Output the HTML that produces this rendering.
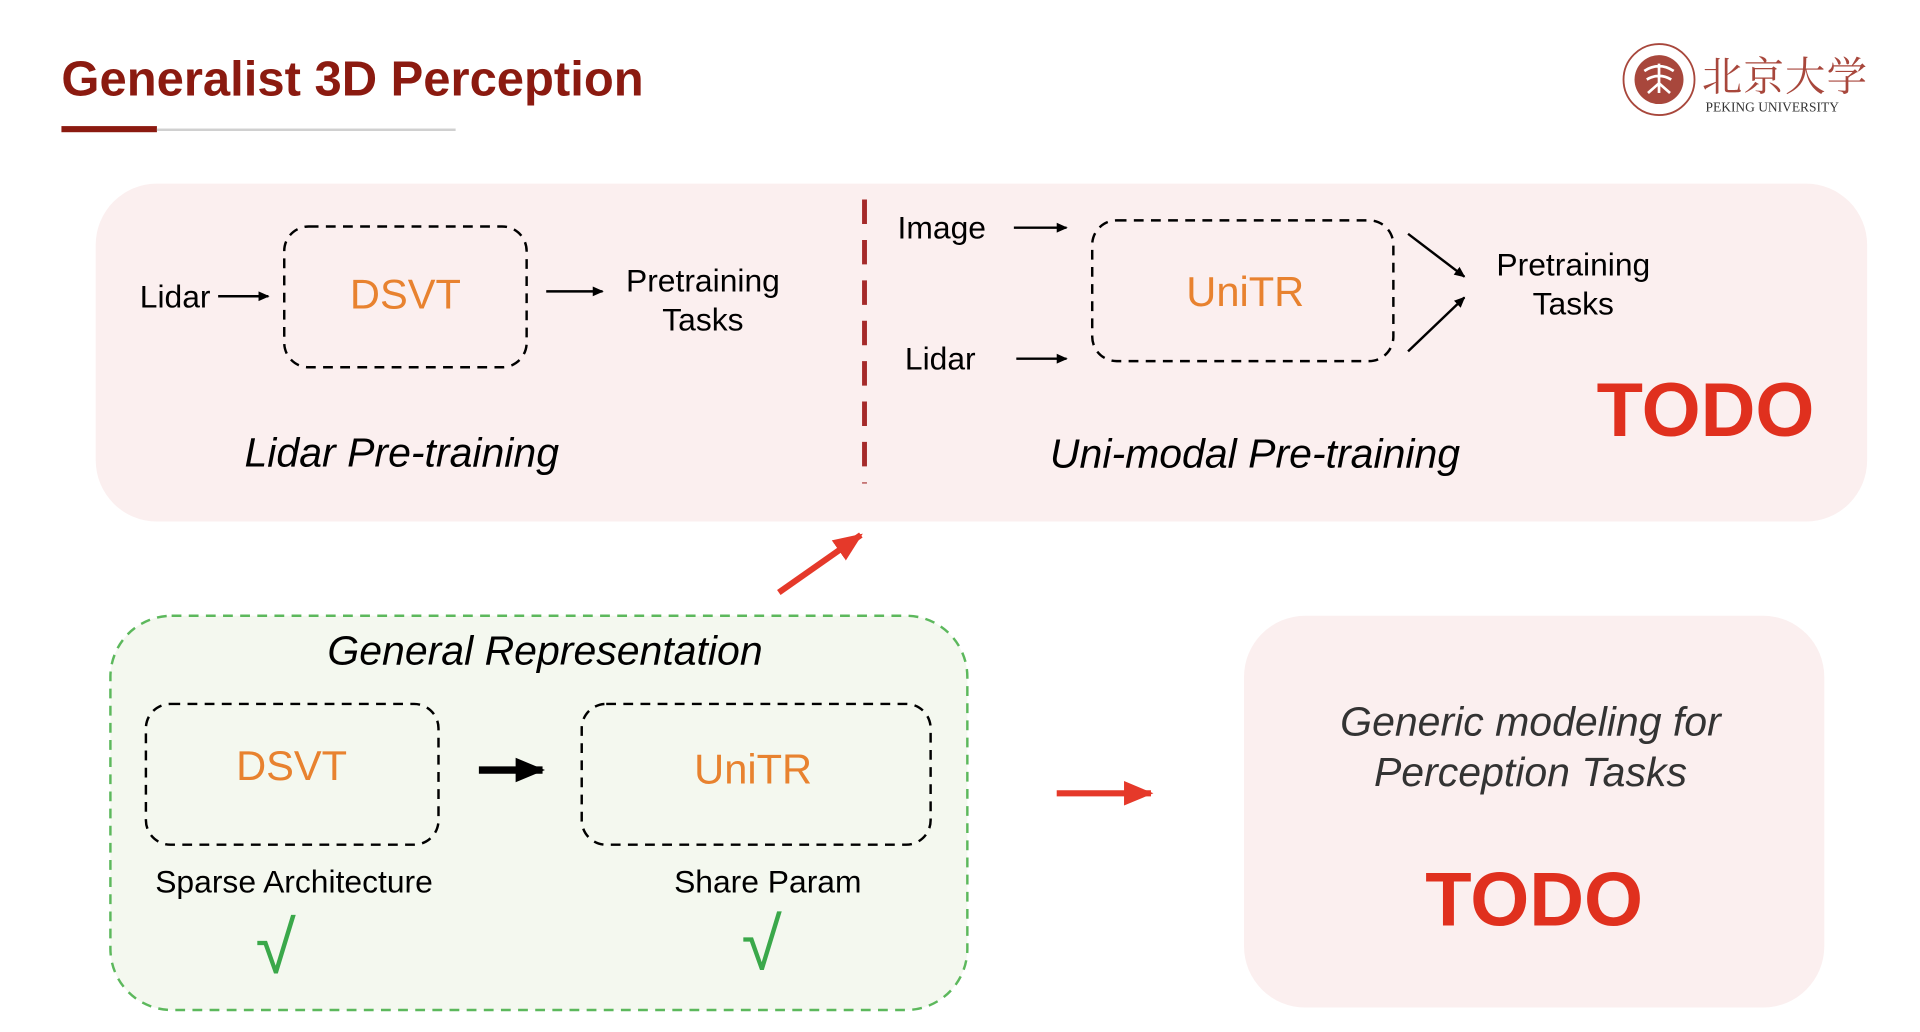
<!DOCTYPE html>
<html><head><meta charset="utf-8"><style>html,body{margin:0;padding:0;background:#fff;overflow:hidden}svg{display:block}</style></head>
<body>
<svg width="1920" height="1032" viewBox="0 0 1568 843" xmlns="http://www.w3.org/2000/svg" font-family="Liberation Sans, sans-serif">
<defs>
<marker id="ab" markerWidth="10" markerHeight="10" refX="8" refY="5" orient="auto" markerUnits="userSpaceOnUse"><path d="M0,1 L9,5 L0,9 z" fill="#000"/></marker>
<marker id="ar" markerWidth="26" markerHeight="24" refX="22" refY="12" orient="auto" markerUnits="userSpaceOnUse"><path d="M0,2 L24,12 L0,22 z" fill="#e5392a"/></marker>
<marker id="abk" markerWidth="26" markerHeight="24" refX="22" refY="12" orient="auto" markerUnits="userSpaceOnUse"><path d="M0,2 L24,12 L0,22 z" fill="#000"/></marker>
</defs>
<rect width="1568" height="843" fill="#fff"/>
<text x="50" y="78" font-size="40" font-weight="bold" fill="#8b1a10">Generalist 3D Perception</text>
<rect x="50" y="103" width="78" height="5" fill="#8b1a10"/>
<rect x="128" y="105" width="244" height="2" fill="#d0d0d0"/>
<!-- logo -->
<circle cx="1355" cy="65" r="29" fill="none" stroke="#a8473c" stroke-width="1.5"/>
<circle cx="1355" cy="65" r="20" fill="#a8473c"/>
<path d="M1343,58 q12,-8 24,0 M1345,65 q10,-6 20,0 M1355,52 v24 M1346,76 l9,-8 l9,8" stroke="#fff" stroke-width="2.2" fill="none"/>
<text x="1390" y="74" font-size="33" fill="#a8473c" font-family="Noto Serif CJK SC, serif" letter-spacing="1">北京大学</text>
<text x="1393" y="91" font-size="11" fill="#333" font-family="Liberation Serif, serif">PEKING UNIVERSITY</text>
<!-- top box -->
<rect x="78" y="150" width="1447" height="276" rx="50" fill="#fbefef"/>
<line x1="706" y1="163" x2="706" y2="395" stroke="#a52a2a" stroke-width="4" stroke-dasharray="20 13"/>
<g font-size="26" fill="#000">
<text x="114" y="251">Lidar</text>
<line x1="178" y1="242" x2="219" y2="242" stroke="#000" stroke-width="2" marker-end="url(#ab)"/>
<rect x="232" y="185" width="198" height="115" rx="20" fill="none" stroke="#000" stroke-width="2" stroke-dasharray="8 6"/>
<text x="331" y="252" font-size="34" fill="#e8822f" text-anchor="middle">DSVT</text>
<line x1="446" y1="238" x2="492" y2="238" stroke="#000" stroke-width="2" marker-end="url(#ab)"/>
<text x="574" y="238" text-anchor="middle">Pretraining</text>
<text x="574" y="270" text-anchor="middle">Tasks</text>
<text x="328" y="381" font-size="33.5" font-style="italic" text-anchor="middle">Lidar Pre-training</text>
<text x="733" y="195">Image</text>
<line x1="828" y1="186" x2="871" y2="186" stroke="#000" stroke-width="2" marker-end="url(#ab)"/>
<text x="739" y="302">Lidar</text>
<line x1="830" y1="293" x2="871" y2="293" stroke="#000" stroke-width="2" marker-end="url(#ab)"/>
<rect x="892" y="180" width="246" height="115" rx="20" fill="none" stroke="#000" stroke-width="2" stroke-dasharray="8 6"/>
<text x="1017" y="250" font-size="34" fill="#e8822f" text-anchor="middle">UniTR</text>
<line x1="1150" y1="191" x2="1196" y2="226" stroke="#000" stroke-width="2" marker-end="url(#ab)"/>
<line x1="1150" y1="287" x2="1196" y2="243" stroke="#000" stroke-width="2" marker-end="url(#ab)"/>
<text x="1285" y="225" text-anchor="middle">Pretraining</text>
<text x="1285" y="257" text-anchor="middle">Tasks</text>
<text x="1025" y="382" font-size="33.5" font-style="italic" text-anchor="middle">Uni-modal Pre-training</text>
</g>
<text x="1393" y="356" font-size="62" font-weight="bold" fill="#e0301e" text-anchor="middle">TODO</text>
<line x1="636" y1="484" x2="703" y2="437" stroke="#e5392a" stroke-width="5" marker-end="url(#ar)"/>
<!-- green box -->
<rect x="90" y="503" width="700" height="322" rx="50" fill="#f4f8ef" stroke="#5cb85c" stroke-width="2" stroke-dasharray="8 6"/>
<g font-size="26" fill="#000">
<text x="445" y="543" font-size="33.5" font-style="italic" text-anchor="middle">General Representation</text>
<rect x="119" y="575" width="239" height="115" rx="20" fill="none" stroke="#000" stroke-width="2" stroke-dasharray="8 6"/>
<text x="238" y="637" font-size="34" fill="#e8822f" text-anchor="middle">DSVT</text>
<line x1="391" y1="629" x2="443" y2="629" stroke="#000" stroke-width="6" marker-end="url(#abk)"/>
<rect x="475" y="575" width="285" height="115" rx="20" fill="none" stroke="#000" stroke-width="2" stroke-dasharray="8 6"/>
<text x="615" y="640" font-size="34" fill="#e8822f" text-anchor="middle">UniTR</text>
<text x="240" y="729" text-anchor="middle">Sparse Architecture</text>
<text x="627" y="729" text-anchor="middle">Share Param</text>
</g>
<text x="225" y="795" font-size="60" fill="#3aa84a" text-anchor="middle">√</text>
<text x="622" y="792" font-size="60" fill="#3aa84a" text-anchor="middle">√</text>
<line x1="863" y1="648" x2="940" y2="648" stroke="#e5392a" stroke-width="5" marker-end="url(#ar)"/>
<!-- right box -->
<rect x="1016" y="503" width="474" height="320" rx="50" fill="#fbefef"/>
<text x="1250" y="601" font-size="33.5" font-style="italic" fill="#333" text-anchor="middle">Generic modeling for</text>
<text x="1250" y="642" font-size="33.5" font-style="italic" fill="#333" text-anchor="middle">Perception Tasks</text>
<text x="1253" y="756" font-size="62" font-weight="bold" fill="#e0301e" text-anchor="middle">TODO</text>
</svg>
</body></html>
